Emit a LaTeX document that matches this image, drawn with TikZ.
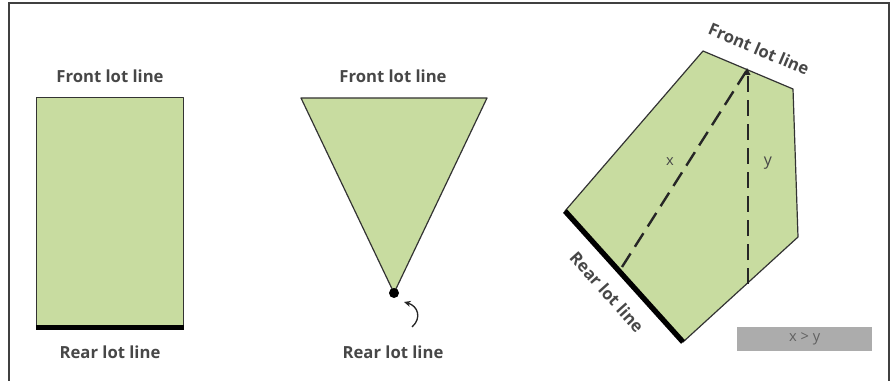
\documentclass[tikz,border=0pt]{standalone}
\usepackage{fontspec}
\setmainfont{Open Sans}
\usetikzlibrary{arrows.meta}
\definecolor{lotgreen}{RGB}{200,220,160}
\definecolor{boxgray}{RGB}{172,172,172}
\begin{document}
\begin{tikzpicture}[x=0.75pt,y=-0.75pt,
  lot/.style={fill=lotgreen,draw=black!80,line width=0.9pt,line join=round},
  rear/.style={line width=4pt,black},
  lbl/.style={font=\fontsize{12.5}{14}\selectfont\bfseries,text=black!72,inner sep=0pt},
  dimline/.style={dash pattern=on 12pt off 6pt,line width=1.8pt,black!85}]
\useasboundingbox (0,0) rectangle (896,381);
\draw[black!75,line width=1pt] (9,381) coordinate (fl) -- (9,3) -- (889,3) -- (889,381) coordinate (fr);
% rectangle lot
\node[lot,minimum width=147*0.75pt,minimum height=229*0.75pt,anchor=north west,inner sep=0pt] (rect) at (36,97) {};
\draw[rear] (rect.south west) -- (rect.south east);
\node[lbl] (r1f) at (110,76) {Front lot line};
\node[lbl] (r1r) at (110,352) {Rear lot line};
% triangle lot
\coordinate (t1) at (301,98);
\coordinate (t2) at (487,98);
\coordinate (t3) at (394,293);
\draw[lot] (t1) -- (t2) -- (t3) -- cycle;
\node[circle,fill=black,minimum size=7.5pt,inner sep=0pt] (dot) at (t3) {};
\node[lbl] (t2f) at (393,76) {Front lot line};
\node[lbl] (t2r) at (393,352) {Rear lot line};
\coordinate (arrS) at (412,327);
\coordinate (arrE) at (404,302);
\draw[black!85,line width=1pt,-{Stealth[length=5pt,width=4.5pt]}] (arrS) .. controls (422,318) and (418,306) .. (arrE);
% polygon lot
\coordinate (p1) at (703,51);
\coordinate (p2) at (793,89);
\coordinate (p3) at (798,237);
\coordinate (p4) at (683,342);
\coordinate (p5) at (565,211);
\draw[lot] (p1) -- (p2) -- (p3) -- (p4) -- (p5) -- cycle;
\draw[rear,line cap=butt] (p5) -- (p4);
\coordinate (ftop) at (747,70);
\coordinate (xb) at (622,267);
\coordinate (yb) at (748,284);
\draw[dimline] (xb) -- (ftop);
\draw[dimline] (yb) -- (748,74);
\fill[black!85] (ftop) ++(-3.5,5) -- ++(3.5,-7) -- ++(3.5,7) -- cycle;
\node[lbl,font=\fontsize{11}{13}\selectfont] (xl) at (670,162) {x};
\node[lbl,font=\fontsize{12}{13}\selectfont] (yl) at (768,163) {y};
\node[lbl,rotate=-23] (pf) at (759,49) {Front lot line};
\node[lbl,rotate=-48] (pr) at (607,292) {Rear lot line};
\node[fill=boxgray,minimum width=135*0.75pt,minimum height=24*0.75pt,inner sep=0pt,anchor=north west] (cmp) at (737,327) {};
\node[lbl,font=\fontsize{11}{12}\selectfont,text=black!62] (cmpt) at (cmp.center) {x > y};
\end{tikzpicture}
\end{document}
